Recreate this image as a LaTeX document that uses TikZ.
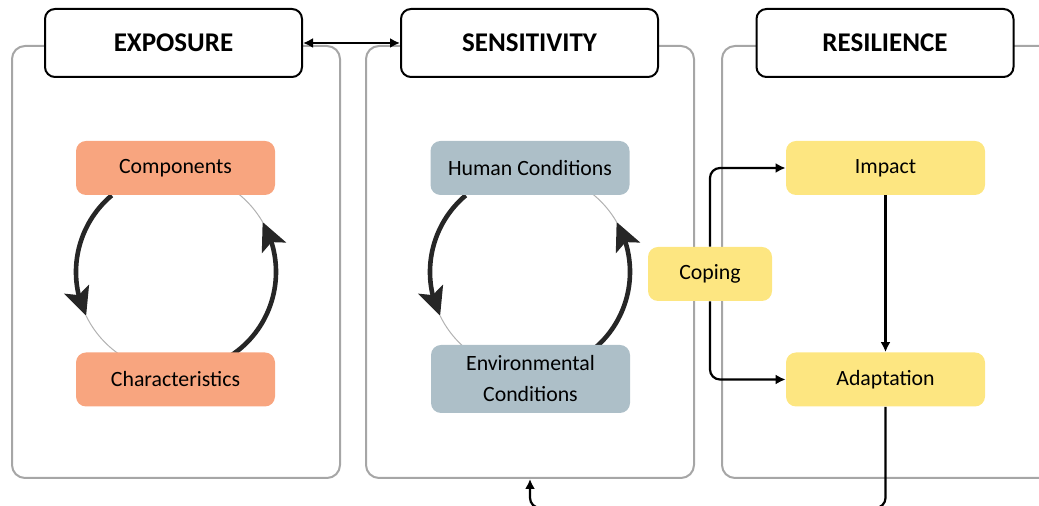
\documentclass[tikz,border=0pt]{standalone}
\usepackage{fontspec}
\setmainfont{Carlito}
\usetikzlibrary{arrows.meta,bending}
\definecolor{salmon}{HTML}{F8A57F}
\definecolor{slate}{HTML}{ADBFC8}
\definecolor{butter}{HTML}{FDE681}
\definecolor{panelgray}{HTML}{A6A6A6}

\begin{document}
\begin{tikzpicture}[x=0.5pt, y=0.5pt,
	panel/.style={draw=panelgray, line width=1pt, rounded corners=6.5pt, minimum height=216pt, inner sep=0pt},
	title/.style={draw=black, fill=white, line width=1pt, rounded corners=5pt, minimum width=128.5pt, minimum height=34pt, inner sep=0pt, font=\fontsize{13.5}{16}\selectfont\bfseries},
	item/.style={rounded corners=5pt, minimum width=99.5pt, minimum height=27pt, inner sep=0pt, align=center, font=\fontsize{10.9}{15.5}\selectfont},
	cycarrow/.style={line width=2.3pt, black!85, -{Stealth[length=14pt, width=13pt, inset=3pt]}},
	fade/.style={gray!60, line width=0.5pt},
	conn/.style={line width=1.1pt, rounded corners=5pt, -{Latex[length=5pt, width=5pt]}}]
	\useasboundingbox (0,0) rectangle (1039,-506);
	\clip (0,0) rectangle (1039,-506);

	% panels and titles
	\node[panel, minimum width=164pt] (expoPanel) at (176,-262) {};
	\node[panel, minimum width=164pt] (sensPanel) at (530,-262) {};
	\node[panel, minimum width=174pt] (resiPanel) at (896,-262) {};
	\node[title] (expo) at (173.5,-43) {EXPOSURE};
	\node[title] (sens) at (529.5,-43) {SENSITIVITY};
	\node[title] (resi) at (885,-43) {RESILIENCE};

	% feedback circles
	\foreach \cx in {176, 530} {
		\draw[cycarrow] (\cx,-272) ++(130:100) arc (130:206:100);
		\draw[fade] (\cx,-272) ++(206:100) arc (206:238:100);
		\draw[cycarrow] (\cx,-272) ++(-57:100) arc (-57:30:100);
		\draw[fade] (\cx,-272) ++(30:100) arc (30:52:100);
	}

	\node[item, fill=salmon] (comp) at (175.5,-168) {Components};
	\node[item, fill=salmon] (char) at (175.5,-379.5) {Characteristics};
	\node[item, fill=slate] (human) at (530,-168) {Human Conditions};
	\node[item, fill=slate, minimum height=34pt] (env) at (530.5,-379) {Environmental\\Conditions};
	\node[item, fill=butter, minimum width=62pt] (coping) at (710,-274) {Coping};
	\node[item, fill=butter] (impact) at (885.5,-168) {Impact};
	\node[item, fill=butter] (adapt) at (885.5,-379.5) {Adaptation};

	\draw[line width=1.1pt, {Latex[length=5pt, width=5pt]}-{Latex[length=5pt, width=5pt]}] (expo) -- (sens);
	\draw[conn] (coping.north) |- (impact.west);
	\draw[conn] (coping.south) |- (adapt.west);
	\draw[conn] (impact) -- (adapt);
	\draw[conn] (adapt.south) -- ++(0,-101) -| (sensPanel.south);
\end{tikzpicture}
\end{document}
